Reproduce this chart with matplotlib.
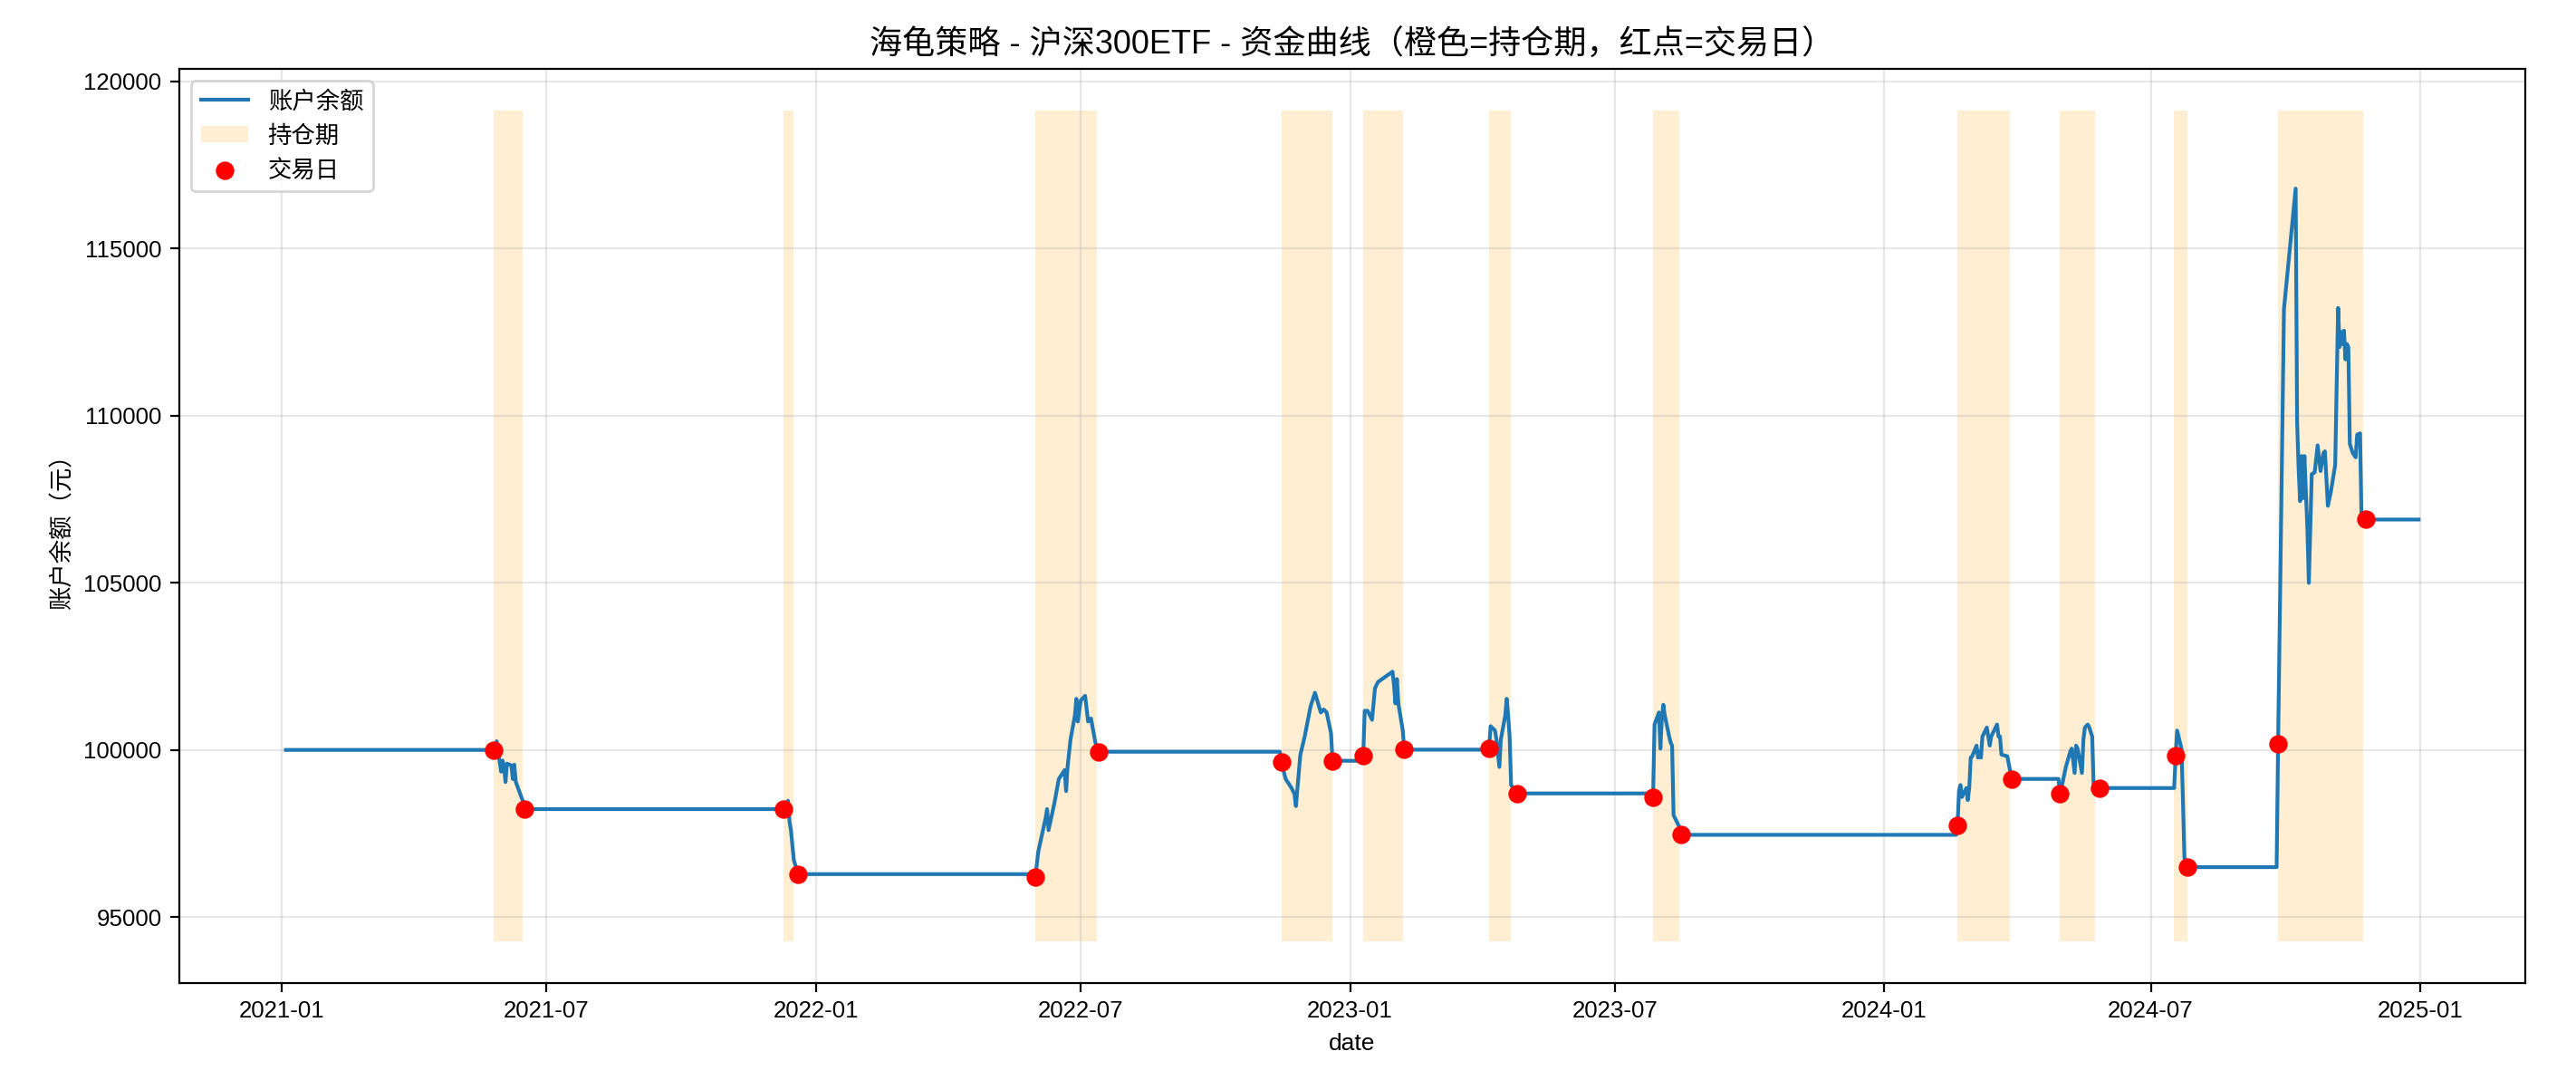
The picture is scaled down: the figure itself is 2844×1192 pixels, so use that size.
import pandas as pd
import matplotlib
matplotlib.use("Agg")
import matplotlib.pyplot as plt
import matplotlib.dates as mdates

plt.rcParams['font.family'] = ['Liberation Sans', 'Noto Sans CJK SC', 'DejaVu Sans']

# equity curve (date, account balance)
curve_dates = [
    "2021-01-04", "2021-05-26", "2021-05-28", "2021-05-31", "2021-06-01", "2021-06-02",
    "2021-06-03", "2021-06-04", "2021-06-07", "2021-06-08", "2021-06-09", "2021-06-10",
    "2021-06-15", "2021-06-16",
    "2021-12-10", "2021-12-13", "2021-12-14", "2021-12-15", "2021-12-16", "2021-12-17",
    "2021-12-20",
    "2022-05-30", "2022-05-31", "2022-06-02", "2022-06-07", "2022-06-08", "2022-06-09",
    "2022-06-13", "2022-06-16", "2022-06-20", "2022-06-21", "2022-06-22", "2022-06-24",
    "2022-06-27", "2022-06-28", "2022-06-29", "2022-07-01", "2022-07-04", "2022-07-06",
    "2022-07-08", "2022-07-11", "2022-07-13",
    "2022-11-14", "2022-11-15", "2022-11-18", "2022-11-22", "2022-11-24", "2022-11-25",
    "2022-11-28", "2022-12-01", "2022-12-05", "2022-12-08", "2022-12-12", "2022-12-14",
    "2022-12-16", "2022-12-19", "2022-12-20",
    "2023-01-09", "2023-01-10", "2023-01-11", "2023-01-13", "2023-01-16", "2023-01-18",
    "2023-01-20", "2023-01-30", "2023-01-31", "2023-02-01", "2023-02-02", "2023-02-03",
    "2023-02-06", "2023-02-07",
    "2023-04-05", "2023-04-06", "2023-04-07", "2023-04-10", "2023-04-11", "2023-04-13",
    "2023-04-14", "2023-04-17", "2023-04-18", "2023-04-19", "2023-04-20", "2023-04-21",
    "2023-04-25",
    "2023-07-26", "2023-07-27", "2023-07-28", "2023-07-31", "2023-08-01", "2023-08-02",
    "2023-08-03", "2023-08-04", "2023-08-07", "2023-08-08", "2023-08-09", "2023-08-10",
    "2023-08-14", "2023-08-15",
    "2024-02-19", "2024-02-20", "2024-02-21", "2024-02-22", "2024-02-23", "2024-02-26",
    "2024-02-27", "2024-02-28", "2024-02-29", "2024-03-01", "2024-03-04", "2024-03-05",
    "2024-03-06", "2024-03-07", "2024-03-08", "2024-03-11", "2024-03-13", "2024-03-14",
    "2024-03-18", "2024-03-19", "2024-03-20", "2024-03-21", "2024-03-25", "2024-03-26",
    "2024-03-28",
    "2024-04-29", "2024-04-30", "2024-05-01", "2024-05-04", "2024-05-07", "2024-05-08",
    "2024-05-10", "2024-05-11", "2024-05-12", "2024-05-15", "2024-05-16", "2024-05-17",
    "2024-05-19", "2024-05-20", "2024-05-22", "2024-05-23", "2024-05-27",
    "2024-07-17", "2024-07-18", "2024-07-19", "2024-07-22", "2024-07-23", "2024-07-24",
    "2024-07-26",
    "2024-09-25", "2024-09-26", "2024-09-30", "2024-10-08", "2024-10-09", "2024-10-10",
    "2024-10-11", "2024-10-12", "2024-10-13", "2024-10-14", "2024-10-16", "2024-10-17",
    "2024-10-19", "2024-10-21", "2024-10-23", "2024-10-25", "2024-10-27", "2024-10-28",
    "2024-10-30", "2024-11-01", "2024-11-04", "2024-11-05", "2024-11-06", "2024-11-07",
    "2024-11-08", "2024-11-09", "2024-11-10", "2024-11-11", "2024-11-12", "2024-11-13",
    "2024-11-14", "2024-11-16", "2024-11-18", "2024-11-19", "2024-11-21", "2024-11-22",
    "2024-11-25", "2024-12-31",
]
curve_values = [
    100000, 100000, 100260, 99350, 99680, 99490,
    99040, 99590, 99540, 99130, 99560, 99050,
    98450, 98230,
    98230, 98480, 97870, 97600, 97150, 96700,
    96285,
    96285, 96195, 96960, 97960, 98230, 97600,
    98410, 99130, 99400, 98770, 99490, 100310,
    101030, 101530, 100850, 101480, 101620, 100850,
    100940, 100220, 99946,
    99946, 99630, 99130, 98860, 98680, 98320,
    99850, 100400, 101300, 101710, 101120, 101210,
    101120, 100490, 99675,
    99675, 99837, 101170, 101170, 100900, 101840,
    102030, 102340, 101930, 101390, 102120, 101390,
    100580, 100008,
    100008, 100054, 100710, 100580, 100310, 99490,
    100310, 101030, 101530, 101030, 100400, 98950,
    98698,
    98698, 98590, 100760, 101120, 100040, 100940,
    101350, 101030, 100400, 100220, 100130, 98050,
    97690, 97460,
    97460, 97731, 98770, 98950, 98590, 98860,
    98500, 98860, 99770, 99810, 100130, 99770,
    99950, 99770, 100400, 100670, 100130, 100400,
    100760, 100400, 100400, 99860, 99810, 99580,
    99132,
    99132, 98698, 98860, 99490, 99950, 100040,
    99310, 100130, 100040, 99310, 100310, 100670,
    100760, 100670, 100400, 98860, 98860,
    98860, 99837, 100580, 100040, 98500, 96780,
    96494,
    96494, 100171, 113180, 116790, 109790, 108430,
    107440, 108790, 107530, 108790, 106620, 104997,
    108250, 108300, 109110, 108340, 108880, 108930,
    107300, 107710, 108520, 110870, 113220, 112050,
    112500, 112140, 112540, 111680, 112140, 112050,
    109150, 108880, 108750, 109430, 109470, 106890,
    106890, 106890,
]

# trade days (buy / sell) shown as red dots
trade_dates = [
    "2021-05-26", "2021-06-16", "2021-12-10", "2021-12-20", "2022-05-31", "2022-07-13",
    "2022-11-15", "2022-12-20", "2023-01-10", "2023-02-07", "2023-04-06", "2023-04-25",
    "2023-07-27", "2023-08-15", "2024-02-20", "2024-03-28", "2024-04-30", "2024-05-27",
    "2024-07-18", "2024-07-26", "2024-09-26", "2024-11-25",
]

# holding periods (orange bands)
hold_start = [
    "2021-05-26", "2021-12-10", "2022-05-31", "2022-11-15", "2023-01-10", "2023-04-06",
    "2023-07-27", "2024-02-20", "2024-04-30", "2024-07-17", "2024-09-26",
]
hold_end = [
    "2021-06-15", "2021-12-17", "2022-07-12", "2022-12-20", "2023-02-06", "2023-04-21",
    "2023-08-14", "2024-03-27", "2024-05-24", "2024-07-26", "2024-11-23",
]

equity = pd.Series(curve_values, index=pd.to_datetime(curve_dates), dtype=float)
equity.index.name = "date"
trades = equity.loc[pd.to_datetime(trade_dates)]

lo = equity.min() * 0.98
hi = equity.max() * 1.02

fig, ax = plt.subplots(figsize=(14.22, 5.96), dpi=200)
fig.subplots_adjust(left=0.0696, right=0.9803, top=0.9362, bottom=0.0898)

ax.plot(equity.index, equity.values, color='#1f77b4', lw=1.5, label='账户余额')
for i, (s, e) in enumerate(zip(hold_start, hold_end)):
    ax.fill_between(pd.to_datetime([s, e]), lo, hi, color='orange', alpha=0.18,
                    linewidth=0, label='持仓期' if i == 0 else None)
ax.scatter(trades.index, trades.values, color='red', s=40, zorder=3, label='交易日')

ax.xaxis.set_major_locator(mdates.MonthLocator(bymonth=(1, 7)))
ax.xaxis.set_major_formatter(mdates.DateFormatter('%Y-%m'))
ax.tick_params(labelsize=9.3)
ax.set_title('海龟策略 - 沪深300ETF - 资金曲线（橙色=持仓期，红点=交易日）', fontsize=13)
ax.set_xlabel('date', fontsize=9.5)
ax.set_ylabel('账户余额（元）', fontsize=9.5)
ax.grid(True, alpha=0.3)
ax.legend(loc='upper left', fontsize=9.5)

plt.savefig('out.png', dpi=200)
